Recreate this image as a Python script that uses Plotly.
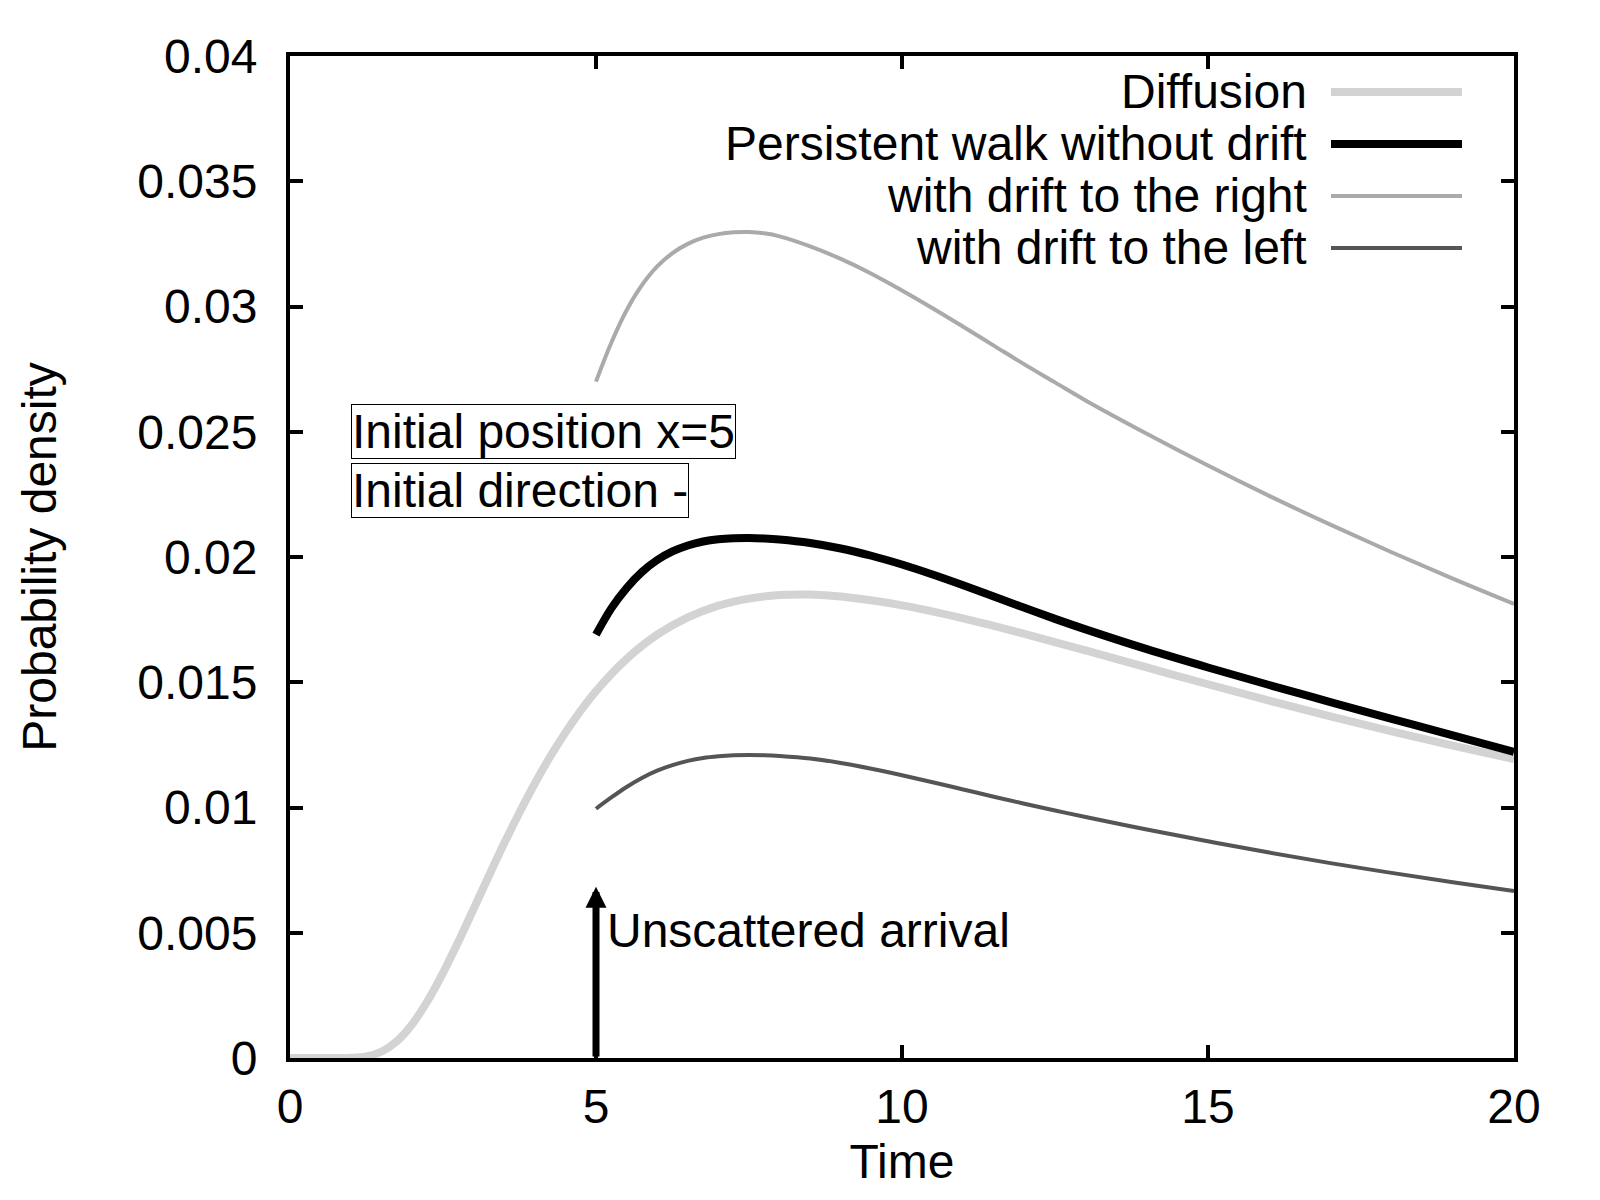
import plotly.graph_objects as go

# ---------------- data ----------------
t_diff = [0, 0.5, 0.75, 1.0, 1.25, 1.5, 1.75, 2.0, 2.25, 2.5, 2.75, 3.0, 3.25, 3.5, 3.75, 4.0,
          4.25, 4.5, 4.75, 5.0, 5.5, 6.0, 6.5, 7.0, 7.5, 8.0, 8.5, 9, 10, 11, 12, 13, 14, 15,
          16, 17, 18, 19, 20]
p_diff = [0, 0, 0, 0.000007, 0.000065, 0.00026, 0.00068, 0.00136, 0.002285, 0.0034, 0.00464,
          0.00595, 0.007275, 0.00857, 0.0098, 0.01096, 0.012025, 0.01299, 0.013867, 0.01465,
          0.01593, 0.0169, 0.01759, 0.01806, 0.01834, 0.01848, 0.0185, 0.01842, 0.01807,
          0.01755, 0.01693, 0.01627, 0.01559, 0.01492, 0.01427, 0.01364, 0.01304, 0.01247,
          0.01193]

t_pw = [5.0, 5.25, 5.5, 5.75, 6.0, 6.25, 6.5, 6.75, 7.0, 7.25, 7.5, 7.75, 8.0, 8.5, 9.0, 9.5,
        10.0, 10.5, 11.0, 11.5, 12.0, 12.5, 13.0, 14, 15, 16, 17, 18, 19, 20]
p_nodrift = [0.0169, 0.01795, 0.01876, 0.0194, 0.01988, 0.02022, 0.02046, 0.02062, 0.02071,
             0.02075, 0.02076, 0.02074, 0.0207, 0.02056, 0.02034, 0.02005, 0.0197, 0.0193,
             0.01887, 0.01842, 0.01797, 0.01753, 0.01711, 0.01632, 0.01559, 0.01489, 0.01421,
             0.01354, 0.01288, 0.01222]
p_right = [0.027, 0.02855, 0.02985, 0.03085, 0.0316, 0.03213, 0.0325, 0.03275, 0.03289,
           0.03296, 0.03297, 0.03292, 0.0328, 0.0324, 0.0319, 0.03131, 0.03064, 0.02993,
           0.02919, 0.02844, 0.02769, 0.02697, 0.02625, 0.02492, 0.02365, 0.02244, 0.02129,
           0.02019, 0.01914, 0.01813]
p_left = [0.00995, 0.0104, 0.01082, 0.01118, 0.01147, 0.01169, 0.01186, 0.01198, 0.01205,
          0.01209, 0.0121, 0.01209, 0.01206, 0.01196, 0.01178, 0.01155, 0.01129, 0.01101,
          0.01072, 0.01043, 0.01015, 0.00988, 0.00962, 0.00912, 0.00865, 0.0082, 0.00778,
          0.00739, 0.00702, 0.00667]

series_names = ["Diffusion", "Persistent walk without drift",
                "with drift to the right", "with drift to the left"]

x_ticks = [0, 5, 10, 15, 20]
y_ticks = [0, 0.005, 0.01, 0.015, 0.02, 0.025, 0.03, 0.035, 0.04]
y_tick_labels = ["0", "0.005", "0.01", "0.015", "0.02", "0.025", "0.03", "0.035", "0.04"]

arrival_time = 5
arrival_height = 0.00684

# ---------------- styling ----------------
FONT = "Liberation Sans, Arial, sans-serif"
FS = 48
styles = [dict(color="#d3d3d3", width=8),
          dict(color="#000000", width=8),
          dict(color="#aaaaaa", width=4),
          dict(color="#555555", width=4)]

fig = go.Figure()
xs = [t_diff, t_pw, t_pw, t_pw]
ys = [p_diff, p_nodrift, p_right, p_left]
for name, x, y, st in zip(series_names, xs, ys, styles):
    fig.add_trace(go.Scatter(x=x, y=y, mode="lines", name=name,
                             line=dict(color=st["color"], width=st["width"], shape="spline",
                                       smoothing=1.0),
                             showlegend=False))

# manual gnuplot-style legend (text right-aligned, sample on the right)
leg_y = [0.9641, 0.9122, 0.8603, 0.8084]
for name, ly, st in zip(series_names, leg_y, styles):
    fig.add_annotation(xref="paper", yref="paper", x=0.8326, y=ly, text=name,
                       showarrow=False, xanchor="right", yanchor="middle",
                       font=dict(family=FONT, size=FS, color="black"))
    fig.add_shape(type="line", xref="paper", yref="paper", x0=0.8505, x1=0.9575,
                  y0=ly, y1=ly, line=dict(color=st["color"], width=st["width"]))

# boxed labels
fig.add_annotation(x=1.0, y=0.025, text="Initial position x=5", showarrow=False,
                   xanchor="left", yanchor="middle", bordercolor="black", borderwidth=1,
                   borderpad=0, font=dict(family=FONT, size=FS, color="black"))
fig.add_annotation(x=1.0, y=0.02265, text="Initial direction -", showarrow=False,
                   xanchor="left", yanchor="middle", bordercolor="black", borderwidth=1,
                   borderpad=0, font=dict(family=FONT, size=FS, color="black"))

# unscattered arrival arrow
fig.add_annotation(x=arrival_time, y=arrival_height, ax=arrival_time, ay=0,
                   xref="x", yref="y", axref="x", ayref="y", text="",
                   showarrow=True, arrowhead=2, arrowsize=0.6, arrowwidth=7,
                   arrowcolor="black")
fig.add_annotation(x=5.14, y=0.0051, text="Unscattered arrival", showarrow=False,
                   xanchor="left", yanchor="middle",
                   font=dict(family=FONT, size=FS, color="black"))

axis_common = dict(showline=True, linecolor="black", linewidth=4, mirror="ticks",
                   ticks="inside", ticklen=13, tickwidth=4, tickcolor="black",
                   showgrid=False, zeroline=False,
                   tickfont=dict(family=FONT, size=FS, color="black"))

fig.update_xaxes(range=[0, 20], tickvals=x_ticks, ticklabelstandoff=3,
                 title=dict(text="Time", font=dict(family=FONT, size=FS, color="black"),
                            standoff=14),
                 **axis_common)
fig.update_yaxes(range=[0, 0.04], tickvals=y_ticks, ticktext=y_tick_labels,
                 ticklabelstandoff=19,
                 title=dict(text="Probability density",
                            font=dict(family=FONT, size=FS, color="black"), standoff=66),
                 **axis_common)

fig.update_layout(width=1600, height=1200, plot_bgcolor="white", paper_bgcolor="white",
                  margin=dict(l=290, r=86, t=56, b=142, autoexpand=False),
                  font=dict(family=FONT, size=FS, color="black"))

fig.write_html("out.html", config={"displayModeBar": False},
               post_script="document.body.style.margin='0px';"
                           "document.documentElement.style.margin='0px';")
